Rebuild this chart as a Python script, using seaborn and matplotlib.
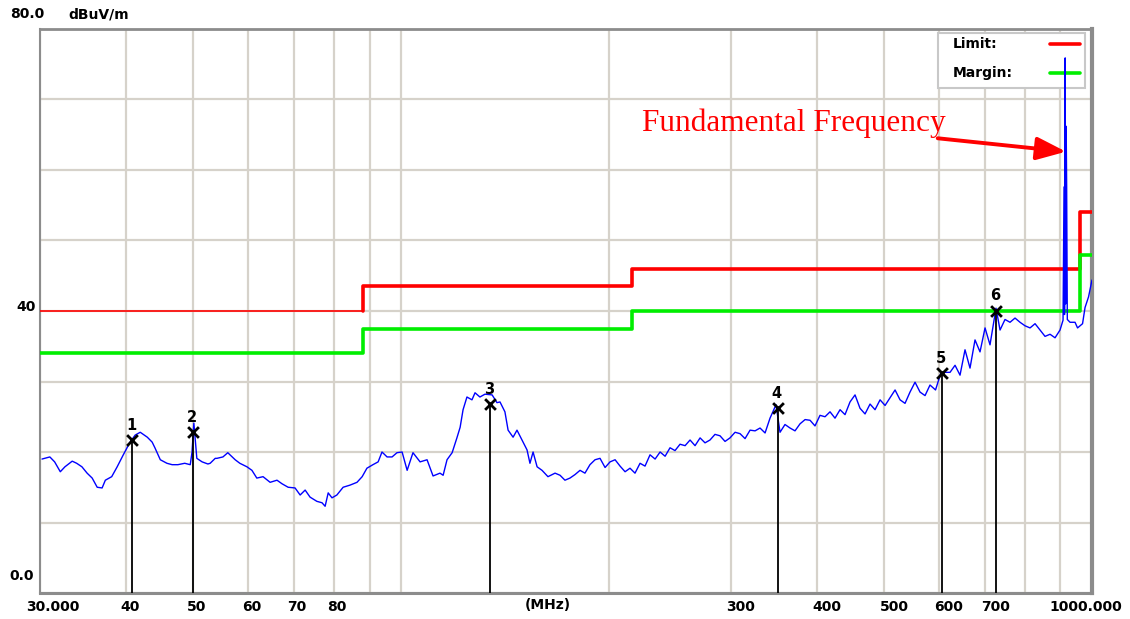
import numpy as np
import matplotlib
matplotlib.use("Agg")
import matplotlib.pyplot as plt
import matplotlib.transforms as mtransforms
from matplotlib.patches import Rectangle
from matplotlib.ticker import NullLocator
import seaborn as sns

# --- data ---
freq_mhz = [30.2, 31.0, 31.5, 32.1, 32.6, 33.4, 33.9, 34.5, 35.1, 35.7, 36.3, 36.9, 37.3, 38.1, 38.8,
            39.6, 40.5, 41.2, 41.9, 42.9, 43.6, 44.0, 44.8, 45.8, 46.6, 47.5, 48.6, 49.5, 49.8, 50.1,
            50.6, 51.5, 52.5, 52.9, 53.8, 54.1, 55.2, 56.1, 57.5, 58.4, 59.8, 60.8, 61.8, 63.1, 64.6,
            66.1, 67.2, 68.6, 70.2, 71.4, 72.6, 73.8, 75.5, 76.8, 77.6, 78.4, 79.4, 80.7, 82.4, 84.3,
            86.3, 87.8, 89.2, 91.0, 92.6, 93.8, 94.7, 95.4, 97.0, 98.6, 100.3, 102.0, 104.0, 106.5, 109.0,
            111.2, 113.8, 115.0, 116.5, 118.5, 120.4, 121.7, 122.9, 124.5, 126.6, 127.9, 130.0, 132.2, 135.4, 137.6,
            139.0, 141.3, 142.8, 145.2, 147.1, 149.6, 152.1, 153.6, 155.2, 157.3, 159.9, 163.1, 167.0, 169.8, 172.6,
            175.5, 178.5, 181.5, 184.5, 187.6, 190.8, 194.0, 197.3, 200.6, 204.0, 207.4, 210.9, 214.4, 218.0, 221.7,
            225.4, 229.2, 233.1, 237.0, 241.0, 245.0, 249.1, 253.3, 257.6, 261.9, 266.3, 270.8, 275.3, 279.9, 284.6,
            289.4, 294.3, 299.2, 304.3, 309.4, 314.6, 319.9, 325.3, 330.7, 336.3, 341.9, 348.8, 353.5, 359.4, 365.5,
            371.6, 377.9, 384.3, 390.7, 397.2, 403.9, 410.7, 417.6, 424.6, 431.8, 439.0, 446.4, 453.9, 461.5, 469.3,
            477.2, 485.2, 493.4, 501.7, 510.1, 518.7, 527.4, 536.2, 545.2, 554.4, 563.7, 573.2, 582.8, 593.6, 604.6,
            623.0, 633.5, 644.1, 654.9, 665.9, 677.1, 688.5, 700.1, 711.8, 726.2, 736.0, 748.3, 760.9, 773.7, 786.7,
            800.0, 813.4, 827.1, 841.0, 855.1, 869.5, 884.1, 898.9, 908.0, 911.0, 912.5, 914.5, 916.0, 917.5, 919.0,
            921.0, 929.4, 945.0, 953.0, 960.9, 969.0, 977.1, 988.5, 1000.0]
level_dbuv = [19.0, 19.3, 18.6, 17.2, 17.9, 18.7, 18.4, 17.9, 17.0, 16.3, 15.0, 14.9, 16.0, 16.5, 17.9,
              19.6, 21.4, 22.4, 22.8, 22.1, 21.4, 20.6, 18.9, 18.4, 18.2, 18.2, 18.4, 18.2, 20.0, 24.1,
              19.1, 18.6, 18.3, 18.4, 19.1, 19.1, 19.3, 19.9, 18.9, 18.4, 17.9, 17.4, 16.3, 16.5, 15.7,
              16.0, 15.5, 15.0, 14.9, 13.9, 14.6, 13.6, 13.0, 12.8, 12.3, 14.2, 13.5, 13.9, 15.0, 15.3,
              15.7, 16.5, 17.7, 18.2, 18.6, 20.0, 19.6, 19.3, 19.3, 19.9, 20.0, 17.4, 19.9, 18.6, 18.9,
              16.6, 17.0, 16.7, 18.9, 19.9, 22.0, 23.5, 26.0, 27.8, 27.4, 28.4, 27.8, 28.2, 28.1, 27.0,
              27.1, 25.7, 23.1, 22.1, 23.1, 21.7, 20.3, 18.4, 20.0, 17.9, 17.4, 16.5, 17.0, 16.7, 16.0,
              16.3, 16.8, 17.4, 17.0, 18.2, 18.9, 19.1, 17.8, 18.6, 18.9, 18.0, 17.2, 17.7, 17.0, 18.4,
              18.0, 19.6, 19.0, 20.0, 19.4, 20.6, 20.2, 21.1, 20.9, 21.7, 20.9, 22.0, 21.3, 21.7, 22.5,
              22.3, 21.5, 22.0, 22.8, 22.6, 21.9, 23.1, 23.0, 23.4, 22.7, 24.8, 26.7, 22.8, 23.9, 23.4,
              23.0, 24.0, 24.6, 24.5, 23.7, 25.2, 25.0, 25.7, 24.8, 26.0, 25.3, 27.1, 28.1, 26.2, 25.4,
              26.8, 26.0, 27.4, 26.6, 27.7, 28.8, 27.4, 26.9, 28.5, 29.9, 28.5, 28.0, 29.5, 28.8, 31.3,
              31.3, 32.3, 30.9, 34.5, 31.9, 35.9, 34.2, 37.6, 35.2, 40.4, 37.3, 38.8, 38.4, 39.0, 38.4,
              37.9, 37.6, 38.2, 37.3, 36.4, 36.7, 36.2, 37.3, 38.7, 57.6, 39.5, 75.9, 41.0, 66.2, 57.6,
              38.8, 38.4, 38.4, 37.6, 37.9, 38.2, 40.5, 42.0, 44.4]

limit_freq = [30, 88, 88, 216, 960, 1000]
limit_db = [40, 40, 43.5, 46, 54, 54]
margin_db = [34, 34, 37.5, 40, 48, 48]

marker_freq = [40.8, 50.0, 134.4, 351.0, 606.0, 726.0]
marker_db = [21.7, 22.8, 26.8, 26.2, 31.2, 40.0]
marker_names = ["1", "2", "3", "4", "5", "6"]

grid_freq = [30, 40, 50, 60, 70, 80, 90, 100, 200, 300, 400, 500, 600, 700, 800, 900, 1000]
grid_text = ["30.000", "40", "50", "60", "70", "80", "", "", "", "300", "400", "500", "600", "700", "", "", "1000.000"]
label_shift_px = [13, 4, 3, 4, 3, 3, 0, 0, 0, 10, 10, 10, 10, 11, 0, 0, -6]

# --- figure ---
sns.set_style("white")
plt.rcParams["font.family"] = ["DejaVu Sans"]
plt.rcParams["text.color"] = "black"
plt.rcParams["xtick.color"] = "black"
plt.rcParams["ytick.color"] = "black"

fig = plt.figure(figsize=(11.3, 6.19), dpi=100)
ax = fig.add_axes([40 / 1130, 26 / 619, 1052 / 1130, 564 / 619])

grid_col = "#d6d2ca"
ax.set_xscale("log")
ax.set_xlim(30, 1000)
ax.set_ylim(0, 80)
ax.set_xticks(grid_freq)
ax.set_xticklabels(grid_text, fontsize=10, fontweight="bold", color="black")
ax.xaxis.set_minor_locator(NullLocator())
ax.set_yticks(range(0, 81, 10))
ax.set_yticklabels([])
ax.tick_params(axis="both", length=0, pad=5, labelcolor="black")
ax.grid(True, color=grid_col, linewidth=1.6)
ax.set_axisbelow(True)
for side, lw in [("left", 1.5), ("bottom", 2.2), ("top", 2.0), ("right", 3.0)]:
    ax.spines[side].set_color("#8c8c8c")
    ax.spines[side].set_linewidth(lw)

for lab, dx in zip(ax.get_xticklabels(), label_shift_px):
    lab.set_transform(lab.get_transform() + mtransforms.ScaledTranslation(dx / 100, 0, fig.dpi_scale_trans))

ax.annotate("(MHz)", xy=(163, 0), xycoords="data", xytext=(0, -12), textcoords="offset pixels",
            ha="center", va="center", fontsize=10, fontweight="bold", color="black", annotation_clip=False)

# y labels placed as the analyser prints them
for val, txt, dx, dy in [(80, "80.0", -13, 15), (80, "dBuV/m", 59, 15), (40, "40", -14, 4), (0, "0.0", -18, 17)]:
    ax.annotate(txt, xy=(0, val), xycoords=("axes fraction", "data"), xytext=(dx, dy),
                textcoords="offset pixels", ha="center", va="center", fontsize=10,
                fontweight="bold", color="black", annotation_clip=False)

# limit and margin lines
ax.plot(limit_freq[:2], limit_db[:2], color="#ff0000", lw=1.2, zorder=3)
ax.plot(limit_freq[1:], limit_db[1:], color="#ff0000", lw=2.6, drawstyle="steps-post", zorder=3)
ax.plot(limit_freq, margin_db, color="#00ee00", lw=2.6, drawstyle="steps-post", zorder=3)

# legend box drawn like the analyser's
ax.add_patch(Rectangle((0.8536, 0.8954), 0.1397, 0.0975, transform=ax.transAxes, facecolor="white",
                       edgecolor="#c8c8c8", lw=1.5, zorder=3.5))
ax.text(0.8679, 0.9734, "Limit:", transform=ax.transAxes, va="center", fontsize=10, fontweight="bold",
        color="black", zorder=3.6)
ax.text(0.8679, 0.9220, "Margin:", transform=ax.transAxes, va="center", fontsize=10, fontweight="bold",
        color="black", zorder=3.6)
ax.plot([0.9601, 0.9886], [0.9734, 0.9734], transform=ax.transAxes, color="#ff0000", lw=2.6, zorder=3.6)
ax.plot([0.9601, 0.9886], [0.9220, 0.9220], transform=ax.transAxes, color="#00ee00", lw=2.6, zorder=3.6)

# measured trace
sns.lineplot(x=freq_mhz, y=level_dbuv, ax=ax, color="#0000ff", lw=1.0, estimator=None, sort=False, zorder=4)

# marker lines, crosses and numbers
ax.vlines(marker_freq, 0, marker_db, color="black", lw=1.3, zorder=4.5)
sns.scatterplot(x=marker_freq, y=marker_db, ax=ax, marker="x", color="black", s=60, linewidth=2, zorder=5)
for f, d, name in zip(marker_freq, marker_db, marker_names):
    ax.annotate(name, xy=(f, d), xytext=(-1, 15), textcoords="offset pixels", ha="center", va="center",
                fontsize=10.5, fontweight="bold", color="black", zorder=5)

# annotation of the carrier
ax.text(223, 65.5, "Fundamental Frequency", color="#ff0000", fontsize=22.5,
        family=["Liberation Serif", "DejaVu Serif"], va="baseline", ha="left")
ax.annotate("", xy=(917, 62.6), xytext=(598, 64.5),
            arrowprops=dict(arrowstyle="-|>,head_length=0.9,head_width=0.35", color="#ff0000",
                            lw=2.8, mutation_scale=20, shrinkA=0, shrinkB=0))

ax.set_xlabel("")
ax.set_ylabel("")
fig.savefig("out.png", dpi=100)
